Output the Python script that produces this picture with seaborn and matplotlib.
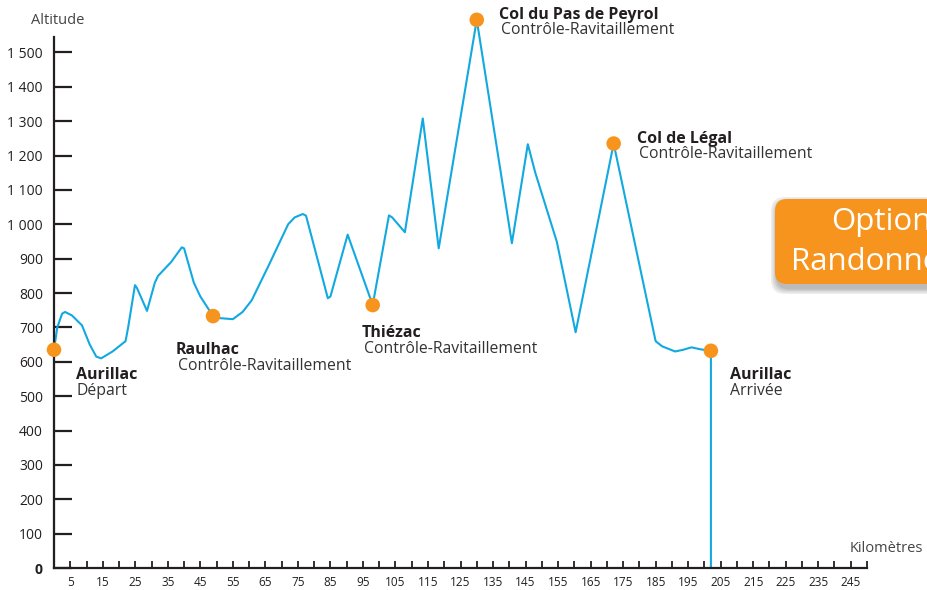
import matplotlib.pyplot as plt
import seaborn as sns
import pandas as pd
from matplotlib.patches import FancyBboxPatch
from matplotlib.ticker import FuncFormatter

# -------------------------
# DATA
# -------------------------
km = [0, 0, 1, 2.5, 3.4, 5.5, 8.6, 11, 13, 14.5, 18, 22, 22.8, 24.9, 25.5,
      28.6, 31, 32, 36, 39.3, 40, 43, 45, 48.9, 51, 55, 58, 60.8, 66, 72,
      74, 76.5, 77.5, 84.2, 85, 90.3, 98, 103, 104, 107.9, 113.4, 118.3,
      130, 140.8, 145.7, 148, 154.6, 160.4, 172.1, 185, 187, 191, 193.5,
      196, 199, 202, 202]
alt = [0, 635, 700, 740, 745, 735, 706, 650, 615, 610, 630, 660, 700, 823, 815,
       748, 830, 850, 890, 933, 930, 830, 790, 733, 727, 724, 745, 779, 880, 1000,
       1020, 1030, 1025, 785, 790, 970, 765, 1026, 1020, 977, 1308, 930,
       1595, 945, 1233, 1150, 950, 686, 1235, 660, 645, 630, 635,
       642, 636, 632, 0]

stop_km = [0, 48.9, 98, 130, 172.1, 202]
stop_alt = [635, 733, 765, 1595, 1235, 632]
stop_names = ["Aurillac", "Raulhac", "Thiézac", "Col du Pas de Peyrol", "Col de Légal", "Aurillac"]
stop_notes = ["Départ", "Contrôle-Ravitaillement", "Contrôle-Ravitaillement",
              "Contrôle-Ravitaillement", "Contrôle-Ravitaillement", "Arrivée"]
# label offsets from each point, in pixels (name line, note line)
name_offsets = [(22, -25), (-37, -34), (-11, -28), (22, 5), (23, 5), (19, -24)]
note_offsets = [(22, -41), (-35, -50), (-9, -44), (24, -10), (25, -10), (19, -40)]

y_ticks = list(range(0, 1600, 100))
x_ticks = list(range(5, 251, 5))
x_labels = [str(t) if t % 10 == 5 else "" for t in x_ticks]

BLUE = "#12A9E1"
ORANGE = "#F7941D"
DARK = "#231F20"

# -------------------------
# PLOT
# -------------------------
sns.set_theme(style="white")
plt.rcParams['font.family'] = ['Open Sans', 'DejaVu Sans']

fig = plt.figure(figsize=(9.27, 5.90), dpi=100)
ax = fig.add_axes([54 / 927, 22 / 590, 813 / 927, 531 / 590])

profile = pd.DataFrame({"km": km, "alt": alt})
sns.lineplot(data=profile, x="km", y="alt", sort=False, estimator=None,
             color=BLUE, linewidth=1.5, ax=ax)
for line in ax.lines:
    line.set_clip_on(False)

sns.scatterplot(x=stop_km, y=stop_alt, s=110, color=ORANGE, edgecolor="none",
                zorder=5, clip_on=False, ax=ax)

for i in range(len(stop_km)):
    ax.annotate(stop_names[i], (stop_km[i], stop_alt[i]), xytext=name_offsets[i],
                textcoords="offset pixels", ha="left", va="center",
                fontsize=11.5, fontweight="bold", color=DARK, annotation_clip=False)
    ax.annotate(stop_notes[i], (stop_km[i], stop_alt[i]), xytext=note_offsets[i],
                textcoords="offset pixels", ha="left", va="center",
                fontsize=11.3, fontweight="normal", color="#333333", annotation_clip=False)

ax.set_xlim(0, 250)
ax.set_ylim(0, 1545)
ax.set_xlabel("")
ax.set_ylabel("")

sns.despine(ax=ax)
for side in ["left", "bottom"]:
    ax.spines[side].set_linewidth(1.6)
    ax.spines[side].set_color(DARK)

ax.set_yticks(y_ticks)
ax.yaxis.set_major_formatter(FuncFormatter(lambda v, p: f"{int(v):,}".replace(",", " ")))
ax.tick_params(axis="y", direction="in", length=13, width=1.6, pad=8,
               labelsize=10, colors=DARK, left=True)
ax.get_yticklabels()[0].set_fontweight("bold")

ax.set_xticks(x_ticks, x_labels)
ax.tick_params(axis="x", direction="in", length=5, width=1.3, pad=6,
               labelsize=8.5, colors=DARK, bottom=True)

fig.text(58 / 927, 1 - 20 / 590, "Altitude", ha="center", va="center",
         fontsize=10.5, color="#444444")
fig.text(886 / 927, 1 - 549 / 590, "Kilomètres", ha="center", va="center",
         fontsize=10.5, color="#444444")

# orange option box (cut off by the right edge, as in the source)
for k, a in enumerate([0.10, 0.10, 0.12, 0.14]):
    d = 0.015 * (4 - k)
    shadow = FancyBboxPatch((7.77 - d, 3.02 - d), 3.0 + 2 * d, 0.85 + 2 * d,
                            boxstyle="round,pad=0,rounding_size=0.14",
                            transform=fig.dpi_scale_trans, fc="#555555", ec="none", alpha=a)
    fig.add_artist(shadow)
box = FancyBboxPatch((7.75, 3.06), 3.0, 0.85, boxstyle="round,pad=0,rounding_size=0.12",
                     transform=fig.dpi_scale_trans, fc=ORANGE, ec="none")
fig.add_artist(box)
fig.text(831 / 927, 1 - 222 / 590, "Option", ha="left", va="center",
         fontsize=22.5, color="white")
fig.text(791 / 927, 1 - 262 / 590, "Randonnée", ha="left", va="center",
         fontsize=22.5, color="white")

plt.savefig("out.png", dpi=100)
plt.close()
